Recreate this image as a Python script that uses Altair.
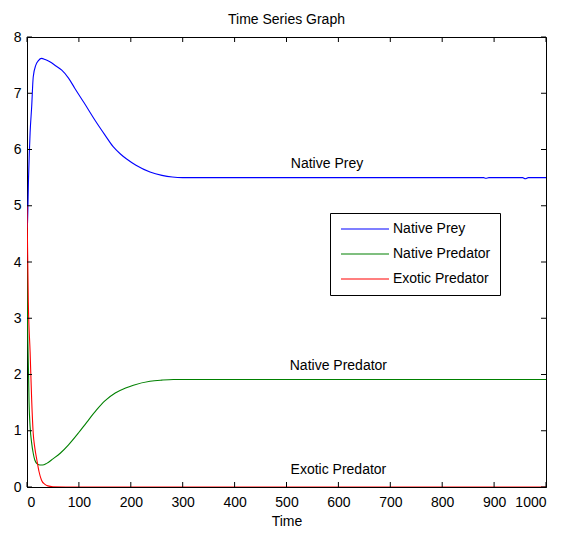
import altair as alt
import pandas as pd

# ---- data ----
prey_t = [0, 1, 3, 6, 9, 12, 17, 22, 28, 35, 44, 55, 67, 80, 92, 110, 131, 150, 166, 180, 192, 210, 237, 260, 280, 300, 500, 700, 880, 884, 890, 955, 960, 966, 1000]
prey_v = [4.6, 4.7, 5.5, 6.3, 6.76, 7.29, 7.5, 7.58, 7.62, 7.6, 7.56, 7.49, 7.41, 7.27, 7.09, 6.83, 6.52, 6.26, 6.05, 5.92, 5.83, 5.72, 5.6, 5.54, 5.51, 5.5, 5.5, 5.5, 5.5, 5.49, 5.5, 5.5, 5.48, 5.5, 5.5]

pred_t = [0, 1, 3, 4, 6, 9, 12, 15, 20, 25, 30, 38, 50, 64, 80, 99, 115, 134, 150, 170, 190, 205, 237, 260, 282, 300, 1000]
pred_v = [4.0, 3.0, 2.0, 1.5, 1.07, 0.78, 0.6, 0.48, 0.41, 0.39, 0.39, 0.42, 0.5, 0.6, 0.75, 0.96, 1.15, 1.37, 1.53, 1.67, 1.76, 1.81, 1.88, 1.9, 1.91, 1.91, 1.91]

exo_t = [0, 2.5, 6, 9, 12, 15, 19, 23, 28, 34, 40, 50, 100, 1000]
exo_v = [5.0, 3.3, 2.4, 1.55, 0.95, 0.7, 0.48, 0.28, 0.12, 0.05, 0.02, 0.005, 0.0, 0.0]

series_names = ["Native Prey", "Native Predator", "Exotic Predator"]
series_colors = ["#0000FF", "#008000", "#FF0000"]

x_ticks = [0, 100, 200, 300, 400, 500, 600, 700, 800, 900, 1000]
y_ticks = [0, 1, 2, 3, 4, 5, 6, 7, 8]

ann_text = ["Native Prey", "Native Predator", "Exotic Predator"]
ann_t = [578, 600, 600]
ann_v = [5.74, 2.16, 0.30]

FONT = "Liberation Sans"
W, H = 519, 450

rows = []
for name, ts, vs in zip(series_names, [prey_t, pred_t, exo_t], [prey_v, pred_v, exo_v]):
    for i, (t, v) in enumerate(zip(ts, vs)):
        rows.append({"Time": t, "Value": v, "Series": name, "order": i})
df = pd.DataFrame(rows)

xscale = alt.Scale(domain=[0, 1000], nice=False, zero=False)
yscale = alt.Scale(domain=[0, 8], nice=False, zero=False)

lines = alt.Chart(df).mark_line(strokeWidth=1.1, clip=True, interpolate="monotone").encode(
    x=alt.X("Time:Q", scale=xscale, axis=alt.Axis(values=x_ticks, title="Time", ticks=False, format="d",
                                                  labelPadding=8, titlePadding=5, grid=False,
                                                  labelFont=FONT, labelFontSize=14, labelColor="black",
                                                  titleFont=FONT, titleFontSize=14, titleFontWeight="normal",
                                                  titleColor="black", domainColor="black")),
    y=alt.Y("Value:Q", scale=yscale, axis=alt.Axis(values=y_ticks, title=None, ticks=False, format="d",
                                                   labelPadding=6, grid=False,
                                                   labelFont=FONT, labelFontSize=14, labelColor="black",
                                                   domainColor="black")),
    color=alt.Color("Series:N",
                    scale=alt.Scale(domain=series_names, range=series_colors),
                    sort=series_names,
                    legend=alt.Legend(title=None, orient="none", legendX=303, legendY=176,
                                      fillColor="white", strokeColor="black", padding=9,
                                      symbolType="M-1,0H8.6", symbolSize=100, symbolStrokeWidth=1.2,
                                      labelFont=FONT, labelFontSize=14, labelColor="black",
                                      labelOffset=40, rowPadding=11)),
    order=alt.Order("order:Q"),
    detail="Series:N",
)

xt = pd.DataFrame({"t": x_ticks})
yt = pd.DataFrame({"v": y_ticks})

tick_bottom = alt.Chart(xt).mark_rule(color="black", strokeWidth=1).encode(
    x=alt.X("t:Q", scale=xscale), y=alt.value(H), y2=alt.value(H - 5))
tick_top = alt.Chart(xt).mark_rule(color="black", strokeWidth=1).encode(
    x=alt.X("t:Q", scale=xscale), y=alt.value(0), y2=alt.value(5))
tick_left = alt.Chart(yt).mark_rule(color="black", strokeWidth=1).encode(
    y=alt.Y("v:Q", scale=yscale), x=alt.value(0), x2=alt.value(5))
tick_right = alt.Chart(yt).mark_rule(color="black", strokeWidth=1).encode(
    y=alt.Y("v:Q", scale=yscale), x=alt.value(W), x2=alt.value(W - 5))

ann = alt.Chart(pd.DataFrame({"text": ann_text, "t": ann_t, "v": ann_v})).mark_text(
    font=FONT, fontSize=14, color="black", align="center", baseline="middle").encode(
    x=alt.X("t:Q", scale=xscale), y=alt.Y("v:Q", scale=yscale), text="text:N")

chart = alt.layer(lines, tick_bottom, tick_top, tick_left, tick_right, ann).properties(
    width=W, height=H,
    background="white",
    title=alt.TitleParams("Time Series Graph", font=FONT, fontSize=14, fontWeight="normal",
                          color="black", anchor="middle", offset=6, baseline="alphabetic", dy=14),
    autosize=alt.AutoSizeParams(type="none"),
    padding={"left": 27, "top": 37, "right": 19, "bottom": 48},
).configure_view(stroke="black", strokeWidth=1)

chart.save("out.html", embed_options={"renderer": "svg", "actions": False})
